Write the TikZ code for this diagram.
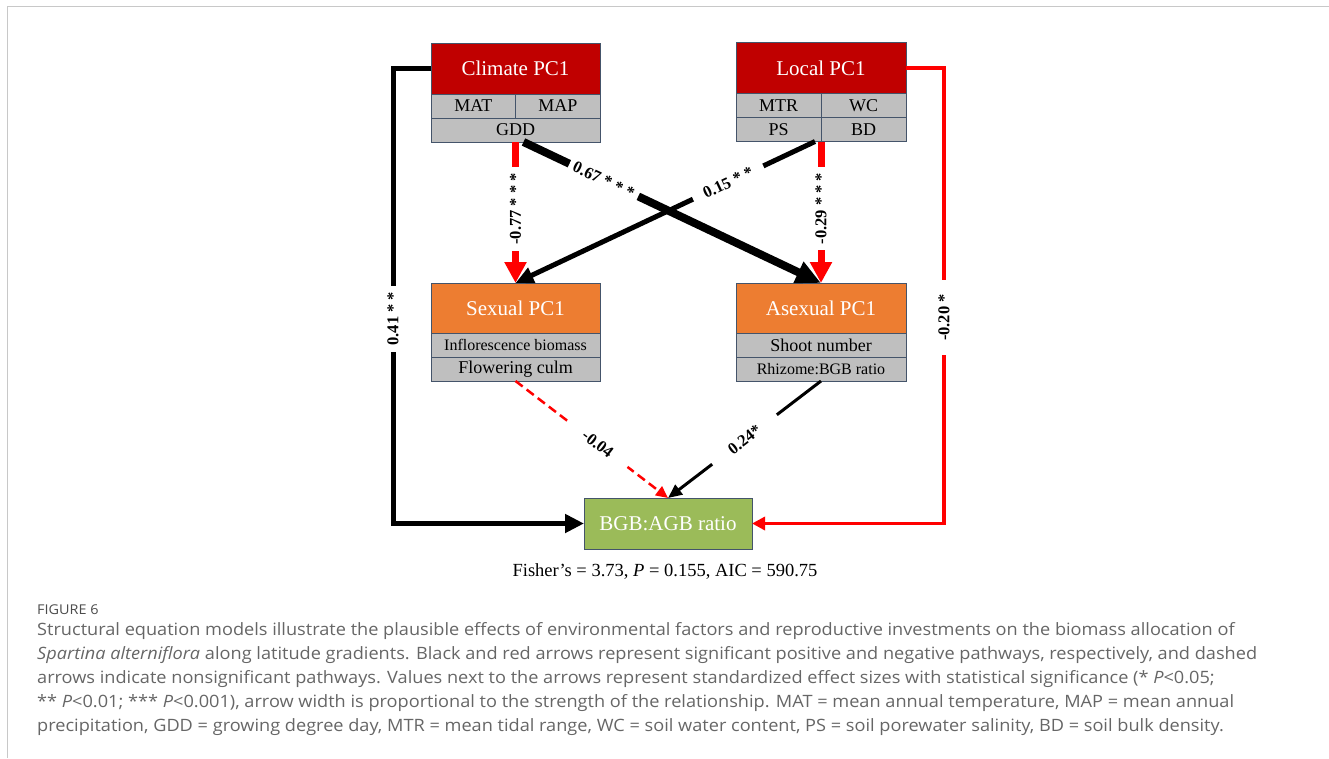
\documentclass[tikz,border=0pt]{standalone}
\usepackage{fontspec}
\setmainfont{Liberation Serif}
\newfontfamily\capfont[FakeStretch=1.068]{Open Sans}
\usetikzlibrary{arrows.meta,positioning}

\definecolor{boxline}{HTML}{44546A}
\definecolor{titlered}{HTML}{C00000}
\definecolor{reproorange}{HTML}{ED7D31}
\definecolor{ratiogreen}{HTML}{9BBB59}
\definecolor{cellgrey}{HTML}{BFBFBF}
\definecolor{capgrey}{HTML}{666666}
\definecolor{framegrey}{HTML}{C8C8C8}
\definecolor{pathred}{HTML}{FF0000}

\tikzset{
  box/.style={draw=boxline, line width=0.8pt, text=white, minimum height=51pt,
              inner sep=0pt, outer sep=0pt, font=\fontsize{21}{21}\selectfont},
  cell/.style={draw=boxline, line width=0.8pt, fill=cellgrey, minimum height=24pt,
               inner sep=0pt, outer sep=0pt, font=\fontsize{18}{18}\selectfont},
  coef/.style={fill=white, font=\bfseries\fontsize{16.5}{16.5}\selectfont,
               inner xsep=6pt, inner ysep=1pt},
  caption/.style={anchor=base west, inner sep=0pt, text=capgrey,
                  font=\capfont\fontsize{17}{17}\selectfont},
  posline/.style={draw=black},
  negline/.style={draw=pathred},
}

\begin{document}
\begin{tikzpicture}[x=1pt,y=-1pt]
  \useasboundingbox (0,0) rectangle (1329,758);
  \draw[framegrey, line width=1pt] (7.5,758) -- (7.5,6.5) -- (1329,6.5);

  % environmental factors
  \node[box, fill=titlered, minimum width=169pt] (climate) at (515.5,68.5) {Climate PC1};
  \node[cell, minimum width=84.5pt, anchor=north west] (mat) at (climate.south west) {MAT};
  \node[cell, minimum width=84.5pt, anchor=north east] (map) at (climate.south east) {MAP};
  \node[cell, minimum width=169pt, below=0pt of mat.south east] (gdd) {GDD};

  \node[box, fill=titlered, minimum width=170pt] (local) at (821,68) {Local PC1};
  \node[cell, minimum width=85pt, anchor=north west] (mtr) at (local.south west) {MTR};
  \node[cell, minimum width=85pt, anchor=north east] (wc) at (local.south east) {WC};
  \node[cell, minimum width=85pt, below=0pt of mtr] (ps) {PS};
  \node[cell, minimum width=85pt, below=0pt of wc] (bd) {BD};

  % reproductive investments
  \node[box, fill=reproorange, minimum width=169pt, minimum height=50pt] (sexual) at (515.5,308) {Sexual PC1};
  \node[cell, minimum width=169pt, below=0pt of sexual, font=\fontsize{16}{16}\selectfont] (infl) {Inflorescence biomass};
  \node[cell, minimum width=169pt, below=0pt of infl] (flowering) {Flowering culm};

  \node[box, fill=reproorange, minimum width=170pt, minimum height=50pt] (asexual) at (821,308) {Asexual PC1};
  \node[cell, minimum width=170pt, below=0pt of asexual] (shoot) {Shoot number};
  \node[cell, minimum width=170pt, below=0pt of shoot, font=\fontsize{16}{16}\selectfont] (rhizome) {Rhizome:BGB ratio};

  % response
  \node[box, fill=ratiogreen, minimum width=168pt] (bgb) at (668,523.5) {BGB:AGB ratio};
  \node[anchor=base, inner sep=0pt, font=\fontsize{18.5}{18.5}\selectfont] (fit) at (665,576)
    {Fisher’s = 3.73, \textit{P} = 0.155, AIC = 590.75};

  % pathways
  \draw[negline, line width=7pt, -{Triangle[length=21pt,width=21pt]}]
    (gdd.south) -- node[coef, rotate=90, pos=0.475] {-0.77 * * *} (sexual.north);
  \draw[posline, line width=5pt, -{Triangle[length=18pt,width=16pt]}]
    ([xshift=-6pt]ps.south east) -- node[coef, sloped, pos=0.29, inner xsep=12pt] {0.15 * *} (sexual.north);
  \draw[posline, line width=8pt, -{Triangle[length=25pt,width=22pt]}]
    ([xshift=8pt]gdd.south) -- node[coef, sloped, pos=0.27, inner xsep=5pt] {0.67 * * *} (asexual.north);
  \draw[negline, line width=7pt, -{Triangle[length=21pt,width=21pt]}]
    (ps.south east) -- node[coef, rotate=90, pos=0.475] {-0.29 * * *} (asexual.north);

  \draw[posline, line width=5pt, -{Triangle[length=19pt,width=18pt]}]
    (climate.west) -- ++(-38,0) |- node[coef, rotate=90, pos=0.275] {0.41 * *} (bgb.west);
  \draw[negline, line width=3.5pt, -{Triangle[length=13pt,width=13pt]}]
    (local.east) -- ++(38,0) |- node[coef, rotate=90, pos=0.274, inner xsep=14pt] {-0.20 *} (bgb.east);

  \draw[negline, line width=2.5pt, dash pattern=on 9pt off 5pt, -{Triangle[length=12pt,width=11pt]}]
    (flowering.south) -- node[coef, sloped, pos=0.54, inner xsep=20pt] {-0.04} (bgb.north);
  \draw[posline, line width=3pt, -{Triangle[length=14pt,width=12pt]}]
    (rhizome.south) -- node[coef, sloped, pos=0.5, inner xsep=22pt] {0.24*} (bgb.north);

  % caption
  \node[caption, text=black!70, font=\capfont\fontsize{13.5}{13.5}\selectfont] (figno) at (37,614.5) {FIGURE 6};
  \node[caption] (cap1) at (37,635)
    {Structural equation models illustrate the plausible effects of environmental factors and reproductive investments on the biomass allocation of};
  \node[caption] (cap2) at (37,659)
    {\textit{Spartina alterniflora} along latitude gradients. Black and red arrows represent significant positive and negative pathways, respectively, and dashed};
  \node[caption] (cap3) at (37,683)
    {arrows indicate nonsignificant pathways. Values next to the arrows represent standardized effect sizes with statistical significance (* \textit{P}<0.05;};
  \node[caption] (cap4) at (37,707)
    {** \textit{P}<0.01; *** \textit{P}<0.001), arrow width is proportional to the strength of the relationship. MAT = mean annual temperature, MAP = mean annual};
  \node[caption] (cap5) at (37,731)
    {precipitation, GDD = growing degree day, MTR = mean tidal range, WC = soil water content, PS = soil porewater salinity, BD = soil bulk density.};
\end{tikzpicture}
\end{document}
